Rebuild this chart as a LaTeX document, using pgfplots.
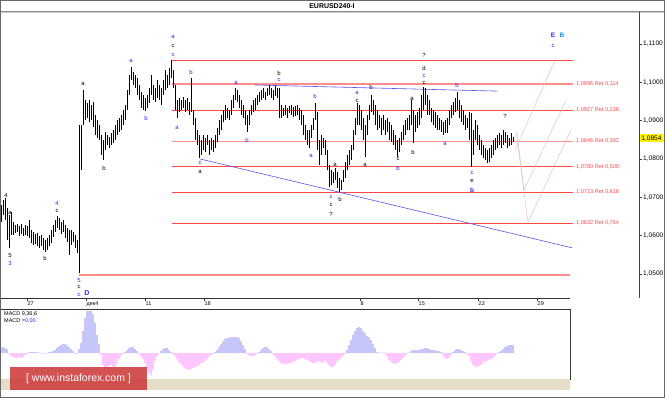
\documentclass[border=0pt]{standalone}
\usepackage{pgfplots}
\pgfplotsset{compat=1.18}
\usepackage{pgfplotstable}
\usepackage{fontspec}
\setmainfont{Liberation Sans}
\definecolor{wblue}{RGB}{40,40,235}
\definecolor{lblue}{RGB}{30,150,220}
\definecolor{fibred}{RGB}{255,70,70}
\definecolor{fibpink}{RGB}{255,140,140}
\definecolor{macdpos}{RGB}{95,95,240}
\definecolor{macdneg}{RGB}{255,95,255}
\definecolor{projc}{RGB}{225,195,195}
\definecolor{trendb}{RGB}{85,85,235}
\definecolor{strip}{RGB}{228,222,200}
\definecolor{wmred}{RGB}{205,60,60}

\pgfplotstableread{
x lo hi
1 1.0635 1.0680
3 1.0654 1.0693
5 1.0641 1.0698
7 1.0589 1.0672
9 1.0568 1.0654
11 1.0602 1.0662
13 1.0602 1.0635
15 1.0607 1.0628
17 1.0610 1.0630
19 1.0599 1.0625
21 1.0604 1.0630
23 1.0599 1.0620
25 1.0602 1.0628
27 1.0599 1.0625
29 1.0594 1.0641
31 1.0581 1.0615
33 1.0576 1.0610
35 1.0578 1.0604
37 1.0573 1.0607
39 1.0568 1.0599
41 1.0573 1.0602
43 1.0563 1.0594
45 1.0557 1.0589
47 1.0563 1.0594
49 1.0573 1.0602
51 1.0581 1.0615
53 1.0596 1.0628
55 1.0610 1.0641
57 1.0620 1.0651
59 1.0615 1.0646
61 1.0604 1.0635
63 1.0610 1.0641
65 1.0594 1.0628
67 1.0583 1.0620
69 1.0549 1.0615
71 1.0576 1.0615
73 1.0583 1.0610
75 1.0568 1.0602
77 1.0555 1.0589
79 1.0502 1.0889
81 1.0771 1.0889
83 1.0889 1.0980
85 1.0902 1.0954
87 1.0907 1.0946
89 1.0896 1.0954
91 1.0902 1.0941
93 1.0883 1.0949
95 1.0863 1.0915
97 1.0855 1.0902
99 1.0849 1.0889
101 1.0810 1.0863
103 1.0797 1.0849
105 1.0823 1.0870
107 1.0836 1.0863
109 1.0828 1.0857
111 1.0836 1.0868
113 1.0841 1.0876
115 1.0849 1.0889
117 1.0863 1.0902
119 1.0870 1.0907
121 1.0876 1.0915
123 1.0889 1.0928
125 1.0902 1.0941
127 1.0928 1.0980
129 1.0967 1.1019
131 1.1006 1.1040
133 1.0993 1.1027
135 1.0985 1.1019
137 1.0967 1.1011
139 1.0954 1.0993
141 1.0933 1.0975
143 1.0928 1.0967
145 1.0925 1.0959
147 1.0933 1.0967
149 1.0946 1.0985
151 1.0967 1.1019
153 1.0954 1.0993
155 1.0949 1.0985
157 1.0959 1.1006
159 1.0954 1.0993
161 1.0941 1.0985
163 1.0967 1.1006
165 1.0980 1.1032
167 1.0985 1.1019
169 1.0993 1.1037
171 1.1011 1.1058
173 1.0985 1.1032
175 1.0928 1.0993
177 1.0907 1.0954
179 1.0923 1.0959
181 1.0928 1.0954
183 1.0933 1.0962
185 1.0923 1.0954
187 1.0928 1.0959
189 1.0915 1.0949
191 1.0923 1.1011
193 1.0889 1.0928
195 1.0849 1.0907
197 1.0836 1.0876
199 1.0802 1.0863
201 1.0810 1.0849
203 1.0823 1.0863
205 1.0818 1.0855
207 1.0836 1.0863
209 1.0810 1.0849
211 1.0823 1.0855
213 1.0818 1.0849
215 1.0828 1.0863
217 1.0844 1.0881
219 1.0863 1.0902
221 1.0876 1.0915
223 1.0896 1.0928
225 1.0902 1.0941
227 1.0907 1.0933
229 1.0902 1.0928
231 1.0915 1.0954
233 1.0933 1.0967
235 1.0954 1.0985
237 1.0949 1.0980
239 1.0933 1.0967
241 1.0915 1.0954
243 1.0907 1.0941
245 1.0889 1.0928
247 1.0870 1.0915
249 1.0889 1.0928
251 1.0915 1.0941
253 1.0923 1.0954
255 1.0928 1.0959
257 1.0941 1.0967
259 1.0949 1.0975
261 1.0954 1.0980
263 1.0959 1.0985
265 1.0954 1.0975
267 1.0964 1.0985
269 1.0967 1.0993
271 1.0959 1.0985
273 1.0954 1.0980
275 1.0964 1.0990
277 1.0959 1.0985
279 1.0907 1.0985
281 1.0907 1.0941
283 1.0912 1.0933
285 1.0915 1.0941
287 1.0907 1.0933
289 1.0920 1.0938
291 1.0915 1.0941
293 1.0909 1.0936
295 1.0912 1.0938
297 1.0915 1.0941
299 1.0902 1.0933
301 1.0889 1.0928
303 1.0863 1.0915
305 1.0849 1.0889
307 1.0836 1.0876
309 1.0828 1.0876
311 1.0855 1.0889
313 1.0876 1.0907
315 1.0902 1.0946
317 1.0823 1.0923
319 1.0784 1.0849
321 1.0810 1.0863
323 1.0828 1.0855
325 1.0810 1.0849
327 1.0771 1.0823
329 1.0727 1.0784
331 1.0732 1.0771
333 1.0737 1.0766
335 1.0745 1.0776
337 1.0724 1.0766
339 1.0714 1.0750
341 1.0719 1.0745
343 1.0740 1.0771
345 1.0750 1.0792
347 1.0771 1.0810
349 1.0784 1.0823
351 1.0797 1.0836
353 1.0823 1.0876
355 1.0863 1.0907
357 1.0889 1.0946
359 1.0889 1.0941
361 1.0876 1.0928
363 1.0849 1.0907
365 1.0805 1.0889
367 1.0863 1.0915
369 1.0902 1.0941
371 1.0923 1.0967
373 1.0915 1.0954
375 1.0889 1.0941
377 1.0876 1.0928
379 1.0881 1.0915
381 1.0863 1.0907
383 1.0876 1.0915
385 1.0863 1.0902
387 1.0870 1.0907
389 1.0849 1.0896
391 1.0844 1.0889
393 1.0836 1.0876
395 1.0823 1.0863
397 1.0805 1.0849
399 1.0818 1.0855
401 1.0836 1.0870
403 1.0849 1.0889
405 1.0863 1.0902
407 1.0876 1.0907
409 1.0876 1.0915
411 1.0889 1.0954
413 1.0841 1.0928
415 1.0870 1.0915
417 1.0881 1.0923
419 1.0889 1.0933
421 1.0907 1.0967
423 1.0928 1.0988
425 1.0941 1.0985
427 1.0915 1.0967
429 1.0915 1.0954
431 1.0896 1.0933
433 1.0889 1.0928
435 1.0881 1.0923
437 1.0876 1.0915
439 1.0876 1.0907
441 1.0870 1.0902
443 1.0863 1.0896
445 1.0868 1.0902
447 1.0868 1.0907
449 1.0889 1.0928
451 1.0907 1.0941
453 1.0915 1.0949
455 1.0923 1.0959
457 1.0928 1.0975
459 1.0907 1.0954
461 1.0896 1.0941
463 1.0889 1.0928
465 1.0876 1.0915
467 1.0881 1.0907
469 1.0849 1.0923
471 1.0779 1.0920
473 1.0810 1.0876
475 1.0849 1.0902
477 1.0836 1.0889
479 1.0823 1.0863
481 1.0810 1.0849
483 1.0802 1.0836
485 1.0797 1.0828
487 1.0789 1.0823
489 1.0792 1.0828
491 1.0802 1.0836
493 1.0810 1.0849
495 1.0823 1.0855
497 1.0828 1.0863
499 1.0836 1.0868
501 1.0828 1.0863
503 1.0836 1.0876
505 1.0841 1.0870
507 1.0828 1.0863
509 1.0834 1.0855
511 1.0836 1.0868
513 1.0844 1.0857
}\bars

\pgfplotstableread{
x v
1 5
3 6
5 5
7 4
29 1
31 1
33 1
35 1
37 1
39 0.5
41 0.5
49 1
51 1
53 2
55 3
57 5
59 7
61 8
63 9
65 9
67 8
69 6
71 4
73 2
79 4
81 10
83 22
85 35
87 42
89 42
91 42
93 39
95 30
97 18
99 9
125 1
127 3
129 5
131 6
133 6
135 4
137 2
161 2
163 4
165 5
167 5
169 3
171 1
215 1
217 3
219 6
221 9
223 12
225 14
227 15
229 15
231 16
233 16
235 16
237 16
239 15
241 12
243 8
245 4
259 1
261 3
263 5
265 6
267 6
269 4
271 2
347 3
349 8
351 13
353 18
355 22
357 25
359 26
361 25
363 22
365 20
367 17
369 16
371 13
373 9
375 5
377 1
379 0.5
381 0.5
383 0.5
385 0.5
409 0.5
411 2
413 3
415 3
417 3
419 3
421 4
423 4
425 5
427 5
429 4
431 3
433 3
435 3
437 2
439 2
441 1
453 1
455 3
457 4
459 4
461 3
463 2
465 1
499 1
501 2
503 4
505 6
507 7
509 8
511 8
513 8
}\macdpostab

\pgfplotstableread{
x v
9 -1
11 -3
13 -4
15 -5
17 -5
19 -4
21 -5
23 -4
25 -2
27 -1
43 -0.5
45 -0.5
47 -0.5
75 -1
77 -1
101 -2
103 -12
105 -15
107 -14
109 -13
111 -12
113 -14
115 -14
117 -10
119 -6
121 -3
123 -1
139 -1
141 -3
143 -6
145 -10
147 -15
149 -20
151 -22
153 -17
155 -8
157 -3
159 -0.5
173 -1
175 -3
177 -6
179 -9
181 -11
183 -13
185 -15
187 -16
189 -17
191 -16
193 -15
195 -14
197 -13
199 -12
201 -10
203 -10
205 -8
207 -6
209 -4
211 -2
213 -1
247 -1
249 -2
251 -3
253 -3
255 -2
257 -1
273 -1
275 -3
277 -6
279 -8
281 -10
283 -11
285 -11
287 -11
289 -10
291 -10
293 -9
295 -8
297 -7
299 -6
301 -5
303 -5
305 -6
307 -7
309 -8
311 -9
313 -10
315 -10
317 -9
319 -8
321 -9
323 -10
325 -8
327 -10
329 -12
331 -14
333 -14
335 -12
337 -9
339 -7
341 -5
343 -3
345 -1
387 -3
389 -7
391 -9
393 -10
395 -11
397 -10
399 -9
401 -7
403 -5
405 -3
407 -1
443 -2
445 -5
447 -6
449 -5
451 -2
467 -1
469 -3
471 -8
473 -12
475 -13
477 -14
479 -13
481 -12
483 -10
485 -9
487 -8
489 -7
491 -6
493 -5
495 -3
497 -1
}\macdnegtab

\newcommand{\wf}{\fontsize{6}{6}\selectfont}
\newcommand{\wl}[4]{\node[text=#1,font=\wf,inner sep=0pt] at (axis cs:#2,#3) {#4};}
\newcommand{\fl}[2]{\node[anchor=west,text=fibred,font=\fontsize{5.6}{6}\selectfont,inner sep=0pt] at (axis cs:576,#1) {#2};}

\begin{document}
\begin{tikzpicture}
\useasboundingbox (0bp,0bp) rectangle (665bp,398bp);
\fill[white] (0bp,0bp) rectangle (665bp,398bp);
% title bar
\node[font=\bfseries\fontsize{7}{8}\selectfont] at (332bp,391.5bp) {EURUSD240-I};
\draw[black!45, line width=0.5bp] (0bp,386.5bp) -- (665bp,386.5bp);
\draw[black!20, line width=0.5bp] (0bp,385.3bp) -- (665bp,385.3bp);

\begin{axis}[
  at={(0bp,100bp)}, anchor=south west, scale only axis,
  width=639bp, height=286bp,
  xmin=0, xmax=639, ymin=1.043706, ymax=1.118352,
  axis x line=none, axis y line*=right,
  axis line style={black!75, line width=0.6bp},
  ytick={1.05,1.06,1.07,1.08,1.09,1.10,1.11},
  tick align=outside, major tick length=3bp,
  tick style={black!75, line width=0.5bp},
  yticklabel style={font=\fontsize{6.6}{7}\selectfont, inner sep=1bp,
    /pgf/number format/.cd, fixed, fixed zerofill, precision=4, use comma, assume math mode=true},
  clip=false,
]
% fibonacci levels
\addplot[fibred, line width=0.7bp, forget plot] coordinates {(172,1.1058) (573,1.1058)};
\addplot[fibpink, line width=1.5bp, forget plot] coordinates {(172,1.0996) (573,1.0996)};
\addplot[fibred, line width=0.7bp, forget plot] coordinates {(172,1.0927) (573,1.0927)};
\addplot[fibpink, line width=1.5bp, forget plot] coordinates {(172,1.0846) (573,1.0846)};
\addplot[fibred, line width=0.7bp, forget plot] coordinates {(172,1.0780) (573,1.0780)};
\addplot[fibred, line width=0.7bp, forget plot] coordinates {(172,1.0713) (573,1.0713)};
\addplot[fibred, line width=0.7bp, forget plot] coordinates {(172,1.0632) (573,1.0632)};
\addplot[fibpink, line width=1.5bp, forget plot] coordinates {(79,1.0497) (570,1.0497)};
% trend lines
\addplot[trendb, line width=0.6bp, forget plot] coordinates {(200,1.0800) (572,1.0568)};
\addplot[trendb, line width=0.6bp, forget plot] coordinates {(255,1.0993) (498,1.0977)};
% projection lines
\addplot[projc, line width=0.5bp, forget plot] coordinates {(516,1.0873) (528,1.0635) (571,1.0876)};
\addplot[projc, line width=0.5bp, forget plot] coordinates {(517,1.0868) (524,1.0719) (566,1.0954)};
\addplot[projc, line width=0.5bp, forget plot] coordinates {(515,1.0823) (556,1.1063)};
% price bars (high-low)
\addplot[draw=none, forget plot, error bars/.cd, y dir=plus, y explicit, error mark=none,
  error bar style={draw=black, solid, line width=0.7bp}]
  table[x=x, y=lo, y error expr=\thisrow{hi}-\thisrow{lo}] {\bars};
% fib labels
\fl{1.0996}{1,0996 Ret 0,114}
\fl{1.0927}{1,0927 Ret 0,236}
\fl{1.0846}{1,0846 Ret 0,382}
\fl{1.0780}{1,0780 Ret 0,500}
\fl{1.0713}{1,0713 Ret 0,618}
\fl{1.0632}{1,0632 Ret 0,764}
% current price
\node[fill=yellow, anchor=west, inner sep=1.2bp, font=\fontsize{6.6}{7}\selectfont] at (axis cs:640,1.0854) {1,0854};
% wave labels
\wl{black}{6}{1.0706}{4}
\wl{black}{10}{1.0659}{a}
\wl{black}{10}{1.0549}{5}
\wl{wblue}{10}{1.0528}{3}
\wl{black}{45}{1.0541}{b}
\wl{wblue}{57}{1.0685}{4}
\wl{black}{57}{1.0664}{c}
\wl{black}{83}{1.0996}{a}
\wl{black}{104}{1.0776}{b}
\wl{wblue}{79}{1.0484}{5}
\wl{black}{79}{1.0466}{c}
\wl{wblue}{79}{1.0445}{c}
\node[text=wblue,font=\bfseries\fontsize{7}{7}\selectfont,inner sep=0pt] at (axis cs:87,1.0450) {D};
\wl{wblue}{131}{1.1056}{a}
\wl{wblue}{146}{1.0907}{b}
\wl{wblue}{173}{1.1118}{a}
\wl{black}{173}{1.1095}{c}
\wl{wblue}{173}{1.1071}{c}
\wl{wblue}{191}{1.1027}{b}
\wl{wblue}{177}{1.0881}{a}
\wl{wblue}{200}{1.0789}{c}
\wl{black}{200}{1.0766}{a}
\wl{wblue}{236}{1.0998}{a}
\wl{wblue}{247}{1.0849}{b}
\wl{black}{279}{1.1024}{b}
\wl{wblue}{279}{1.1006}{c}
\wl{wblue}{315}{1.0964}{b}
\wl{wblue}{311}{1.0808}{a}
\wl{wblue}{331}{1.0701}{c}
\wl{black}{331}{1.0680}{c}
\wl{black}{331}{1.0656}{?}
\wl{black}{340}{1.0695}{b}
\wl{black}{335}{1.0784}{a}
\wl{wblue}{357}{1.0972}{a}
\wl{black}{357}{1.0951}{c}
\wl{black}{371}{1.0988}{b}
\wl{black}{365}{1.0784}{a}
\wl{black}{398}{1.0800}{c}
\wl{wblue}{398}{1.0776}{b}
\wl{black}{413}{1.0818}{b}
\wl{black}{412}{1.0956}{a}
\wl{black}{424}{1.1069}{?}
\wl{black}{424}{1.1037}{d}
\wl{wblue}{424}{1.1016}{c}
\wl{black}{424}{1.0998}{c}
\wl{wblue}{457}{1.0993}{b}
\wl{wblue}{445}{1.0839}{a}
\wl{wblue}{472}{1.0763}{c}
\wl{black}{472}{1.0742}{e}
\node[text=wblue,font=\bfseries\fontsize{6.5}{7}\selectfont,inner sep=0pt] at (axis cs:472,1.0719) {b};
\wl{black}{505}{1.0911}{?}
\node[text=wblue,font=\bfseries\fontsize{6.5}{7}\selectfont,inner sep=0pt] at (axis cs:553,1.1123) {E};
\node[text=lblue,font=\bfseries\fontsize{6.5}{7}\selectfont,inner sep=0pt] at (axis cs:562,1.1123) {B};
\wl{wblue}{553}{1.1095}{c}
\end{axis}

% date axis
\draw[black!80, line width=0.7bp] (0bp,100bp) -- (570bp,100bp);
\foreach \xx/\lab in {27/27, 86/дек4, 145/11, 204/18, 360/8, 418/15, 478/22, 537/29}{
  \draw[black!80, line width=0.5bp] (\xx bp,100bp) -- (\xx bp,97bp);
  \node[anchor=west, inner sep=0.5bp, font=\fontsize{5.5}{6}\selectfont] at (\xx bp,94bp) {\lab};
}

% MACD panel
\begin{axis}[
  at={(0bp,19bp)}, anchor=south west, scale only axis,
  width=570bp, height=70bp,
  xmin=0, xmax=570, ymin=-26, ymax=44,
  xtick=\empty, ytick=\empty,
  axis line style={black!80, line width=0.8bp},
]
\addplot[ybar, bar width=0.75bp, bar shift=0pt, fill=macdpos, draw=none, forget plot] table[x=x, y=v] {\macdpostab};
\addplot[ybar, bar width=0.75bp, bar shift=0pt, fill=macdneg, draw=none, forget plot] table[x=x, y=v] {\macdnegtab};
\end{axis}
\node[anchor=west, inner sep=0pt, font=\fontsize{5.5}{6}\selectfont] at (4bp,84.5bp) {MACD 9,36,6};
\node[anchor=west, inner sep=0pt, font=\fontsize{5.5}{6}\selectfont] at (4bp,77bp) {MACD =\textcolor{wblue}{0,00}};

% bottom strip and watermark
\fill[strip] (0.5bp,8bp) rectangle (570bp,18.6bp);
\fill[wmred, opacity=0.88] (10bp,8bp) rectangle (147bp,31bp);
\node[text=white, font=\fontsize{10.5}{11}\selectfont] at (78.5bp,19.5bp) {[ www.instaforex.com ]};
% outer frame
\draw[black!60, line width=0.8bp] (0.4bp,0.4bp) rectangle (664.6bp,397.6bp);
\end{tikzpicture}
\end{document}
